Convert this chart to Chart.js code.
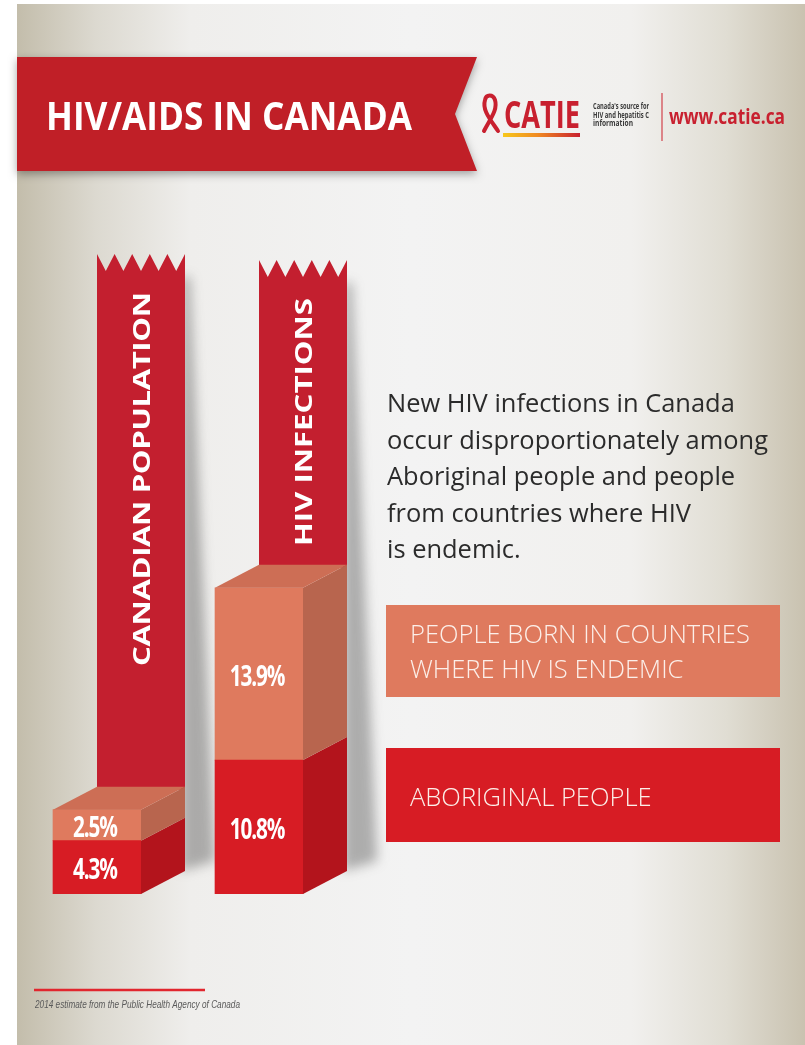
<!DOCTYPE html>
<html><head><meta charset="utf-8">
<script src="https://cdn.jsdelivr.net/npm/chart.js@4/dist/chart.umd.min.js"></script>
<style>html,body{margin:0;padding:0;background:#fff;overflow:hidden}canvas{display:block}</style>
</head><body>
<canvas id="c" width="805" height="1045" style="width:805px;height:1045px"></canvas>
<script>
// ---------- data ----------
const categories = ['CANADIAN POPULATION', 'HIV INFECTIONS'];
const aboriginal = [4.3, 10.8];
const endemic = [2.5, 13.9];
const seriesNames = ['ABORIGINAL PEOPLE', 'PEOPLE BORN IN COUNTRIES WHERE HIV IS ENDEMIC'];
const legendLinesAboriginal = ['ABORIGINAL PEOPLE'];
const legendLinesEndemic = ['PEOPLE BORN IN COUNTRIES', 'WHERE HIV IS ENDEMIC'];
const titleText = 'HIV/AIDS IN CANADA';
const paragraph = ['New HIV infections in Canada', 'occur disproportionately among', 'Aboriginal people and people', 'from countries where HIV', 'is endemic.'];
const logoLines = ["Canada's source for", 'HIV and hepatitis C', 'information'];
const sourceText = '2014 estimate from the Public Health Agency of Canada';

// ---------- styles ----------
const RED = { front: '#d71c24', side: '#b3141c', top: '#c8161f' };
const ORANGE = { front: '#df7a5e', side: '#b8654e', top: '#cd6e55' };
const RIBBON = '#c31f2f';
const DX = 44, DY = -23;

function fitText(ctx, text, x, y, w, font, color) {
  ctx.save();
  ctx.font = font;
  ctx.fillStyle = color;
  ctx.textAlign = 'left';
  ctx.textBaseline = 'alphabetic';
  const m = ctx.measureText(text).width;
  ctx.translate(x, y);
  ctx.scale(w / m, 1);
  ctx.fillText(text, 0, 0);
  ctx.restore();
}

function spacedRotated(ctx, text, cx, cy, length, size, stretch, color) {
  ctx.save();
  ctx.translate(cx, cy);
  ctx.rotate(-Math.PI / 2);
  ctx.font = '700 ' + size + 'px "Open Sans"';
  ctx.fillStyle = color;
  ctx.textBaseline = 'alphabetic';
  ctx.textAlign = 'left';
  const chars = text.split('');
  const ws = chars.map(c => ctx.measureText(c).width * stretch);
  const nat = ws.reduce((a, b) => a + b, 0);
  const gap = (length - nat) / (chars.length - 1);
  let x = -length / 2;
  const yb = size * 0.357;
  chars.forEach((c, i) => {
    ctx.save();
    ctx.translate(x, yb);
    ctx.scale(stretch, 1);
    ctx.fillText(c, 0, 0);
    ctx.restore();
    x += ws[i] + gap;
  });
  ctx.restore();
}

const decor = {
  id: 'decor',
  beforeDraw(chart) {
    const ctx = chart.ctx;
    ctx.save();
    ctx.fillStyle = '#ffffff';
    ctx.fillRect(0, 0, 805, 1045);
    const g = ctx.createLinearGradient(17, 0, 805, 0);
    g.addColorStop(0, '#c3bdab');
    g.addColorStop(0.1, '#dcd9d0');
    g.addColorStop(0.22, '#efeeec');
    g.addColorStop(0.5, '#f3f3f3');
    g.addColorStop(0.78, '#f1f0ee');
    g.addColorStop(0.9, '#e0ddd3');
    g.addColorStop(1, '#c9c2b0');
    ctx.fillStyle = g;
    ctx.fillRect(17, 4, 805 - 17, 1045 - 4);

    // banner
    ctx.save();
    ctx.shadowColor = 'rgba(0,0,0,0.35)';
    ctx.shadowBlur = 8;
    ctx.shadowOffsetY = 3;
    ctx.fillStyle = '#c01f27';
    ctx.beginPath();
    ctx.moveTo(17, 57);
    ctx.lineTo(477, 57);
    ctx.lineTo(455, 114);
    ctx.lineTo(477, 171);
    ctx.lineTo(17, 171);
    ctx.closePath();
    ctx.fill();
    ctx.restore();
    fitText(ctx, titleText, 46, 130, 366, '700 39px "Open Sans"', '#ffffff');

    // logo
    ctx.save();
    ctx.strokeStyle = '#c8202f';
    ctx.lineWidth = 4;
    ctx.lineCap = 'round';
    ctx.beginPath();
    ctx.moveTo(484, 131);
    ctx.bezierCurveTo(490, 119, 498, 110, 495, 100);
    ctx.bezierCurveTo(493, 94, 486, 94, 485, 100);
    ctx.bezierCurveTo(482, 110, 490, 119, 498, 131);
    ctx.stroke();
    ctx.restore();
    fitText(ctx, 'CATIE', 504, 128, 76, '700 38px "Open Sans"', '#c8202f');
    const lg = ctx.createLinearGradient(503, 0, 580, 0);
    lg.addColorStop(0, '#f7c81b');
    lg.addColorStop(0.45, '#f08a22');
    lg.addColorStop(1, '#c8202f');
    ctx.fillStyle = lg;
    ctx.fillRect(503, 133, 77, 4);
    const lw = [56, 56, 40];
    logoLines.forEach((t, i) => fitText(ctx, t, 593, 109 + i * 8.5, lw[i], '700 9px "Open Sans"', '#3a3a3a'));
    ctx.strokeStyle = '#d2404a';
    ctx.lineWidth = 1.2;
    ctx.beginPath(); ctx.moveTo(662, 93); ctx.lineTo(662, 141); ctx.stroke();
    fitText(ctx, 'www.catie.ca', 669, 124, 116, '700 21px "Open Sans"', '#c8202f');

    // paragraph
    ctx.font = '400 100px "Open Sans"';
    const pm = ctx.measureText(paragraph[1]).width;
    const psize = 100 * 381 / pm;
    ctx.font = '400 ' + psize + 'px "Open Sans"';
    ctx.fillStyle = '#2b2b2b';
    ctx.textAlign = 'left';
    ctx.textBaseline = 'alphabetic';
    paragraph.forEach((t, i) => ctx.fillText(t, 387, 412 + i * 36.5));

    // legend boxes
    ctx.fillStyle = ORANGE.front;
    ctx.fillRect(386, 605, 394, 92);
    ctx.fillStyle = RED.front;
    ctx.fillRect(386, 748, 394, 94);
    ctx.font = '300 100px "Open Sans"';
    const lm = ctx.measureText(legendLinesEndemic[0]).width;
    const lsize = 100 * 340 / lm;
    ctx.font = '300 ' + lsize + 'px "Open Sans"';
    ctx.fillStyle = '#fcefe9';
    legendLinesEndemic.forEach((t, i) => ctx.fillText(t, 410, 643 + i * 35));
    legendLinesAboriginal.forEach((t, i) => ctx.fillText(t, 410, 806 + i * 35));

    // footer
    ctx.strokeStyle = '#e1262e';
    ctx.lineWidth = 2.5;
    ctx.beginPath(); ctx.moveTo(34, 990); ctx.lineTo(205, 990); ctx.stroke();
    fitText(ctx, sourceText, 35, 1008, 205, 'italic 400 11px "Liberation Sans"', '#5a5a5a');
    ctx.restore();
  },
  beforeDatasetsDraw(chart) {
    const ctx = chart.ctx;
    const topMeta = chart.getDatasetMeta(1);
    const baseMeta = chart.getDatasetMeta(0);
    const peaks = [254, 260], valleys = [271, 277];
    topMeta.data.forEach((bar, i) => {
      const w = bar.width;
      const x0 = bar.x - w / 2 + DX, x1 = bar.x + w / 2 + DX;
      const bottom = bar.y + DY + 3;
      const boxBottom = baseMeta.data[i].base + DY;
      ctx.save();
      ctx.filter = 'blur(6px)';
      ctx.fillStyle = 'rgba(60,60,60,0.38)';
      ctx.beginPath();
      ctx.moveTo(x1 - 4, valleys[i] + 6);
      ctx.lineTo(x1 + 5, valleys[i] + 6);
      ctx.lineTo(x1 + 30, boxBottom - 10);
      ctx.lineTo(x1 - 4, boxBottom);
      ctx.closePath();
      ctx.fill();
      ctx.restore();
      ctx.save();
      ctx.fillStyle = RIBBON;
      ctx.beginPath();
      ctx.moveTo(x0, peaks[i]);
      for (let k = 0; k < 5; k++) {
        ctx.lineTo(x0 + (k + 0.5) * w / 5, valleys[i]);
        ctx.lineTo(x0 + (k + 1) * w / 5, peaks[i]);
      }
      ctx.lineTo(x1, bottom);
      ctx.lineTo(x0, bottom);
      ctx.closePath();
      ctx.fill();
      ctx.restore();
      const textTop = valleys[i] + 21;
      const textBottom = i === 0 ? 666 : 546;
      spacedRotated(ctx, categories[i], (x0 + x1) / 2, (textTop + textBottom) / 2, textBottom - textTop, 24, 1.3, '#ffffff');
    });
  },
  afterDatasetsDraw(chart) {
    const ctx = chart.ctx;
    const metas = [chart.getDatasetMeta(0), chart.getDatasetMeta(1)];
    const palettes = [RED, ORANGE];
    const values = [aboriginal, endemic];
    metas.forEach((meta, d) => {
      meta.data.forEach((bar, i) => {
        const w = bar.width;
        const x0 = bar.x - w / 2, x1 = bar.x + w / 2;
        const yt = bar.y, yb = bar.base;
        ctx.fillStyle = palettes[d].side;
        ctx.beginPath();
        ctx.moveTo(x1, yt); ctx.lineTo(x1 + DX, yt + DY); ctx.lineTo(x1 + DX, yb + DY); ctx.lineTo(x1, yb);
        ctx.closePath(); ctx.fill();
        if (d === metas.length - 1) {
          ctx.fillStyle = palettes[d].top;
          ctx.beginPath();
          ctx.moveTo(x0, yt); ctx.lineTo(x0 + DX, yt + DY); ctx.lineTo(x1 + DX, yt + DY); ctx.lineTo(x1, yt);
          ctx.closePath(); ctx.fill();
        }
        ctx.save();
        ctx.font = '700 28px "Open Sans"';
        ctx.fillStyle = '#ffffff';
        ctx.textAlign = 'center';
        ctx.textBaseline = 'middle';
        ctx.translate(bar.x - 2, (yt + yb) / 2 + 4);
        ctx.scale(0.74, 1);
        ctx.letterSpacing = '-1.5px';
        ctx.fillText(values[d][i].toFixed(1) + '%', 0, 0);
        ctx.restore();
      });
    });
  }
};

new Chart(document.getElementById('c'), {
  type: 'bar',
  data: {
    labels: categories,
    datasets: [
      { label: seriesNames[0], data: aboriginal, backgroundColor: RED.front, borderWidth: 0, barThickness: 88 },
      { label: seriesNames[1], data: endemic, backgroundColor: ORANGE.front, borderWidth: 0, barThickness: 88 }
    ]
  },
  options: {
    responsive: false,
    animation: false,
    devicePixelRatio: 1,
    layout: { padding: { left: 16, right: 465, top: 150, bottom: 151 } },
    plugins: { legend: { display: false }, tooltip: { enabled: false }, title: { display: false } },
    scales: {
      x: { display: false, stacked: true, offset: true },
      y: { display: false, stacked: true, min: 0, max: 60 }
    }
  },
  plugins: [decor]
});
</script>
</body></html>
